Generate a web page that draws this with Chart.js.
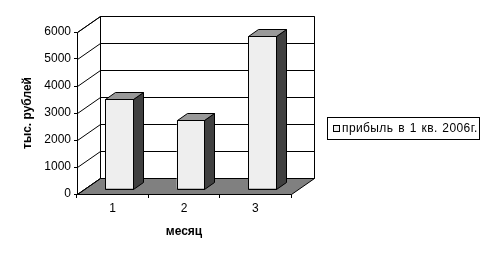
<!DOCTYPE html>
<html>
<head>
  <title>Прибыль</title>
  <script src="https://cdn.jsdelivr.net/npm/chart.js"></script>
  <style>
    body { margin: 0; background: #fff; }
    #wrap { position: relative; width: 491px; height: 258px; }
    #legend {
      position: absolute; left: 327px; top: 117px; width: 151px; height: 21px;
      border: 1px solid #000; font: 12px "Liberation Sans", Arial, sans-serif;
      line-height: 21px; white-space: nowrap; letter-spacing: 0.4px; word-spacing: 1px;
    }
    #legend span.box {
      display: inline-block; width: 5px; height: 5px; border: 1px solid #000;
      background: #eeeeee; margin: 0 2px 0 5px; vertical-align: 0px;
    }
  </style>
</head>
<body>
  <div id="wrap">
    <canvas id="chart" width="491" height="258"></canvas>
    <div id="legend"><span class="box"></span>прибыль в 1 кв. 2006г.</div>
  </div>
  <script>
    const months = ['1', '2', '3'];
    const profit = [3350, 2570, 5680];
    const seriesName = 'прибыль в 1 кв. 2006г.';

    const DX = 23, DY = 16;      // depth of the whole 3D box
    const FX = 7, FY = 5;        // bars sit a bit behind the front plane
    const BX = 10, BY = 7;       // depth of a bar

    const font = { family: '"Liberation Sans", Arial, sans-serif', size: 12 };
    const bold = { family: font.family, size: 12, weight: 'bold' };

    function poly(ctx, pts, fill) {
      ctx.beginPath();
      ctx.moveTo(pts[0][0], pts[0][1]);
      for (let i = 1; i < pts.length; i++) ctx.lineTo(pts[i][0], pts[i][1]);
      ctx.closePath();
      if (fill) { ctx.fillStyle = fill; ctx.fill(); }
      ctx.strokeStyle = '#000';
      ctx.lineWidth = 1;
      ctx.stroke();
    }

    const box3d = {
      id: 'box3d',
      beforeDatasetsDraw(chart) {
        const ctx = chart.ctx;
        const a = chart.chartArea;
        const y = chart.scales.y;
        const L = Math.round(a.left) + 0.5, R = Math.round(a.right) + 0.5;
        const T = Math.round(a.top) + 0.5, B = Math.round(a.bottom) + 0.5;
        ctx.save();
        // back wall
        poly(ctx, [[L + DX, T - DY], [R + DX, T - DY], [R + DX, B - DY], [L + DX, B - DY]], '#fff');
        // left wall
        poly(ctx, [[L, T], [L + DX, T - DY], [L + DX, B - DY], [L, B]], '#fff');
        // floor
        poly(ctx, [[L, B], [R, B], [R + DX, B - DY], [L + DX, B - DY]], '#808080');
        // grid lines on walls
        ctx.beginPath();
        y.ticks.forEach(t => {
          const py = Math.round(y.getPixelForValue(t.value)) + 0.5;
          ctx.moveTo(L, py);
          ctx.lineTo(L + DX, py - DY);
          if (t.value > 0) ctx.lineTo(R + DX, py - DY);
        });
        ctx.moveTo(L, T); ctx.lineTo(L, B);
        ctx.strokeStyle = '#000';
        ctx.stroke();
        ctx.restore();
      },
      beforeDatasetDraw(chart) {
        chart.ctx.save();
        chart.ctx.translate(FX, -FY);
      },
      afterDatasetDraw(chart, args) {
        const ctx = chart.ctx;
        args.meta.data.forEach(bar => {
          const p = bar.getProps(['x', 'y', 'base', 'width'], true);
          const l = Math.round(p.x - p.width / 2) + 0.5;
          const r = Math.round(p.x + p.width / 2) - 0.5;
          const t = Math.round(p.y) + 0.5;
          const b = Math.round(p.base) + 0.5;
          poly(ctx, [[r, t], [r + BX, t - BY], [r + BX, b - BY], [r, b]], '#404040');
          poly(ctx, [[l, t], [l + BX, t - BY], [r + BX, t - BY], [r, t]], '#999999');
          ctx.beginPath();
          ctx.rect(l, t, r - l, b - t);
          ctx.strokeStyle = '#000';
          ctx.stroke();
        });
        ctx.restore();
      }
    };

    new Chart(document.getElementById('chart'), {
      type: 'bar',
      data: {
        labels: months,
        datasets: [{
          label: seriesName,
          data: profit,
          backgroundColor: '#eeeeee',
          borderWidth: 0,
          categoryPercentage: 1,
          barPercentage: 0.4,
          clip: false
        }]
      },
      options: {
        responsive: false,
        animation: false,
        layout: { padding: { left: 16, right: 200, top: 32, bottom: 15 } },
        plugins: { legend: { display: false }, tooltip: { enabled: false } },
        scales: {
          x: {
            afterFit: s => { s.height = 49; },
            border: { display: false },
            grid: { drawOnChartArea: false, color: '#000', tickLength: 4, offset: true },
            ticks: { color: '#000', font: font, padding: 3, maxRotation: 0 },
            title: { display: true, text: 'месяц', color: '#000', font: bold }
          },
          y: {
            min: 0, max: 6000,
            afterFit: s => { s.width = 61; },
            border: { display: false },
            grid: { drawOnChartArea: false, color: '#000', tickLength: 3 },
            ticks: { stepSize: 1000, color: '#000', font: font, padding: 3, callback: v => String(v) },
            title: { display: true, text: 'тыс. рублей', color: '#000', font: bold }
          }
        }
      },
      plugins: [box3d]
    });
  </script>
</body>
</html>
